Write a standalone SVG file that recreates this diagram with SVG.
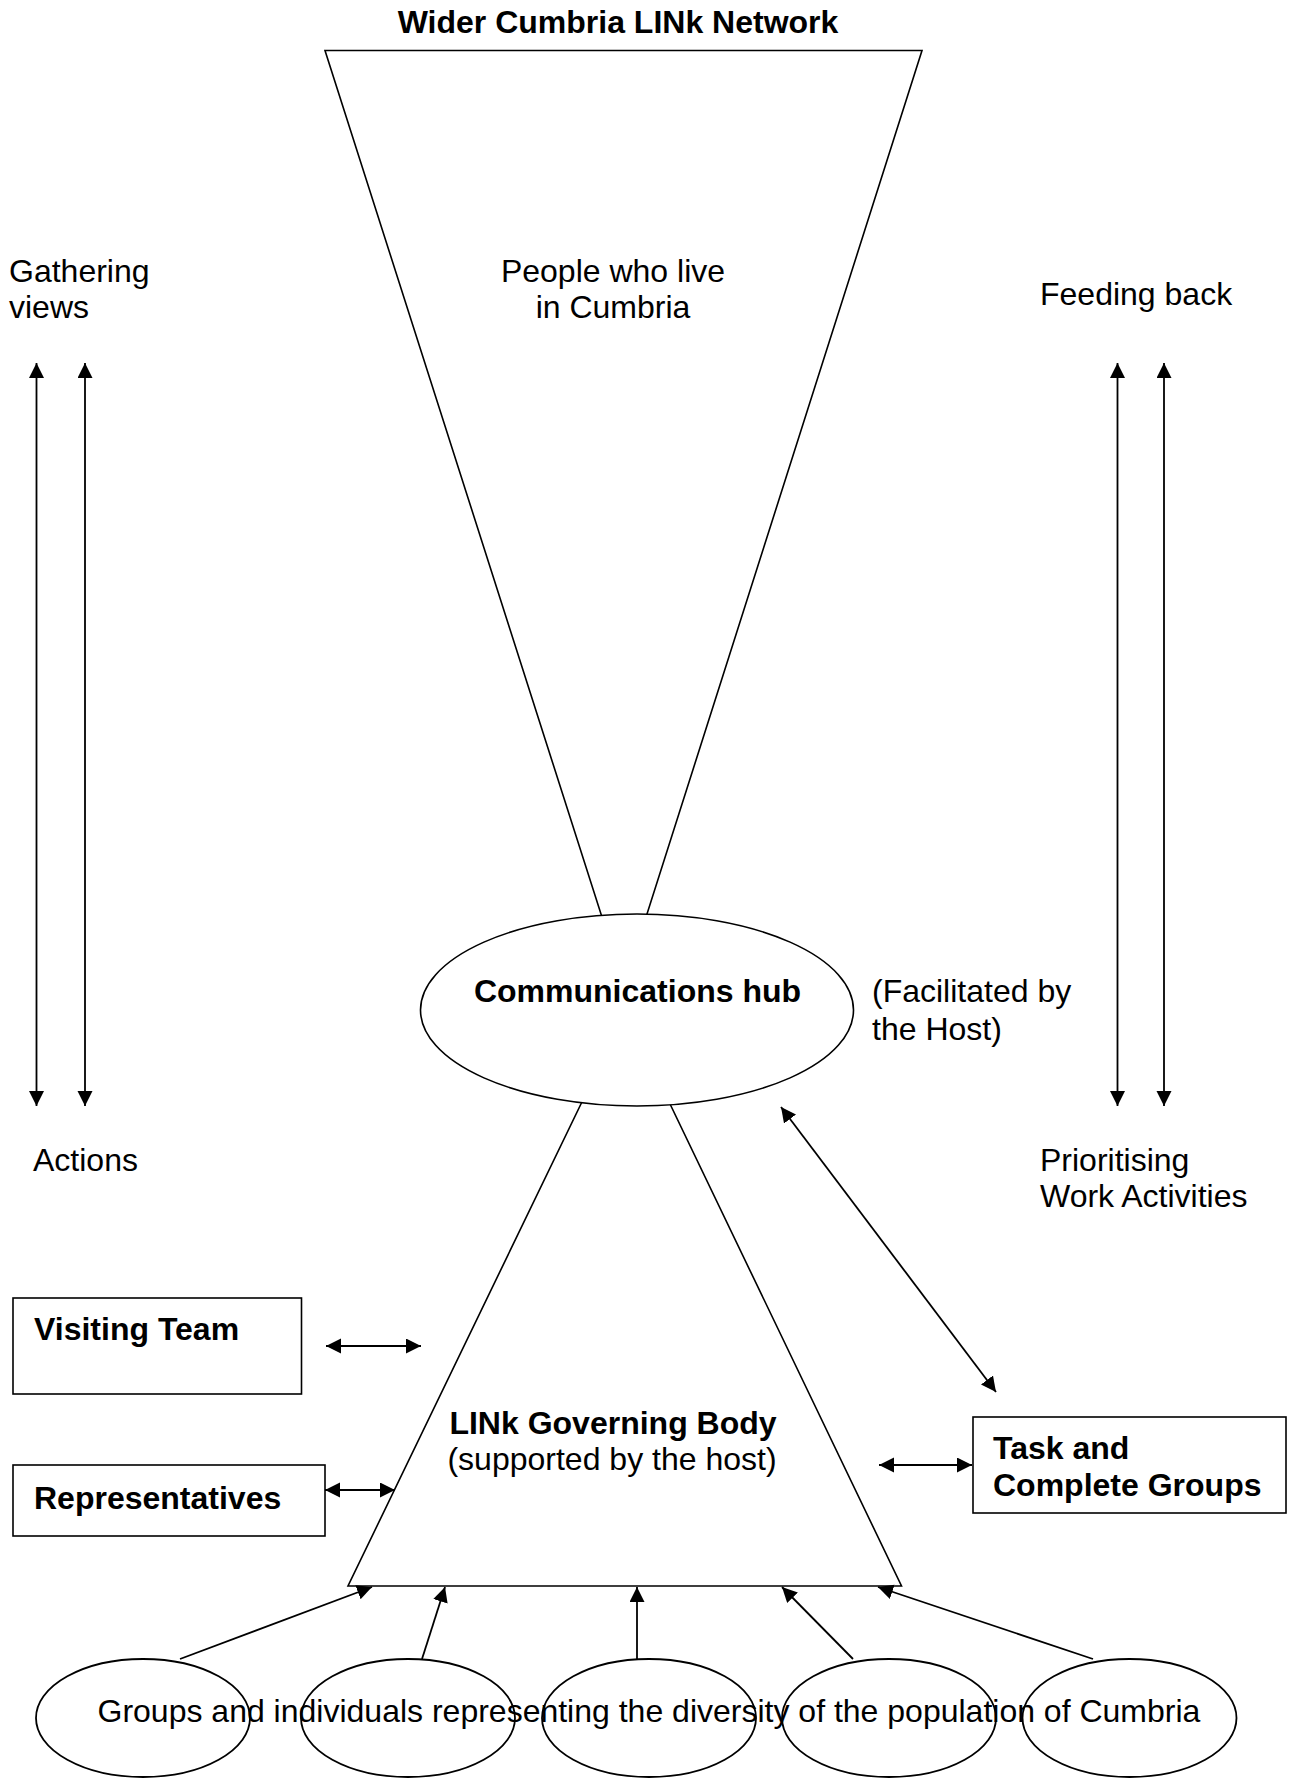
<svg xmlns="http://www.w3.org/2000/svg" width="1292" height="1778" viewBox="0 0 1292 1778">
<style>
text{font-family:"Liberation Sans",Arial,sans-serif;font-size:32px;fill:#000}
.b{font-weight:bold}
.m{text-anchor:middle}
.shape{fill:#fff;stroke:#000;stroke-width:1.6}
.open{fill:none;stroke:#000;stroke-width:1.8}
.con line{stroke:#000;stroke-width:1.8;fill:none}
.one{marker-end:url(#ah)}
.two{marker-start:url(#ah);marker-end:url(#ah)}
</style>
<defs>
<marker id="ah" markerUnits="userSpaceOnUse" markerWidth="16" markerHeight="16" viewBox="0 0 16 16" refX="15" refY="7.5" orient="auto-start-reverse">
<path d="M0,0 L15,7.5 L0,15 z" fill="#000"/>
</marker>
</defs>
<rect width="1292" height="1778" fill="#fff"/>

<g id="title"><text class="b m" x="618" y="33">Wider Cumbria LINk Network</text></g>

<g id="people">
<polygon class="shape" points="325,50.5 922,50.5 643.5,925 604.5,925"/>
<text class="m" x="613" y="282">People who live</text>
<text class="m" x="613" y="318">in Cumbria</text>
</g>

<g id="governing">
<polygon class="shape" points="585.3,1095 665.7,1095 901.5,1586 348,1586"/>
<text class="b m" x="613" y="1433.5">LINk Governing Body</text>
<text class="m" x="612" y="1469.5">(supported by the host)</text>
</g>

<g id="hub">
<ellipse class="shape" cx="637" cy="1010" rx="216.5" ry="96"/>
<text class="b m" x="637.5" y="1002">Communications hub</text>
</g>
<g id="hub-note">
<text x="872" y="1002">(Facilitated by</text>
<text x="872" y="1040">the Host)</text>
</g>

<g id="gathering"><text x="9" y="282">Gathering</text><text x="9" y="318">views</text></g>
<g id="actions"><text x="33" y="1170.5">Actions</text></g>
<g id="feeding"><text x="1040" y="305">Feeding back</text></g>
<g id="prioritising"><text x="1040" y="1170.5">Prioritising</text><text x="1040" y="1206.5">Work Activities</text></g>

<g id="visiting">
<rect class="shape" x="13" y="1298" width="288.5" height="96"/>
<text class="b" x="34" y="1340">Visiting Team</text>
</g>
<g id="representatives">
<rect class="shape" x="13" y="1465" width="312" height="71"/>
<text class="b" x="34" y="1508.5">Representatives</text>
</g>
<g id="task">
<rect class="shape" x="973" y="1417" width="313" height="96"/>
<text class="b" x="993" y="1459">Task and</text>
<text class="b" x="993" y="1496">Complete Groups</text>
</g>

<g id="group1"><ellipse class="open" cx="143" cy="1718" rx="107" ry="59"/></g>
<g id="group2"><ellipse class="open" cx="408" cy="1718" rx="107" ry="59"/></g>
<g id="group3"><ellipse class="open" cx="649" cy="1718" rx="107" ry="59"/></g>
<g id="group4"><ellipse class="open" cx="889" cy="1718" rx="107" ry="59"/></g>
<g id="group5"><ellipse class="open" cx="1129.5" cy="1718" rx="107" ry="59"/></g>
<g id="groups-label"><text x="97.5" y="1721.5">Groups and individuals representing the diversity of the population of Cumbria</text></g>

<g id="connectors" class="con">
<line class="two" x1="36.5" y1="363" x2="36.5" y2="1106"/>
<line class="two" x1="85" y1="363" x2="85" y2="1106"/>
<line class="two" x1="1117.5" y1="363" x2="1117.5" y2="1106"/>
<line class="two" x1="1164" y1="363" x2="1164" y2="1106"/>
<line class="two" x1="781" y1="1107" x2="996" y2="1392"/>
<line class="two" x1="326" y1="1346" x2="421" y2="1346"/>
<line class="two" x1="325" y1="1490" x2="395" y2="1490"/>
<line class="two" x1="879" y1="1465" x2="972" y2="1465"/>
<line class="one" x1="180" y1="1659" x2="372" y2="1587"/>
<line class="one" x1="422" y1="1659" x2="445" y2="1587"/>
<line class="one" x1="637" y1="1659" x2="637" y2="1587"/>
<line class="one" x1="853" y1="1659" x2="782" y2="1587"/>
<line class="one" x1="1093" y1="1659" x2="878" y2="1587"/>
</g>
</svg>
